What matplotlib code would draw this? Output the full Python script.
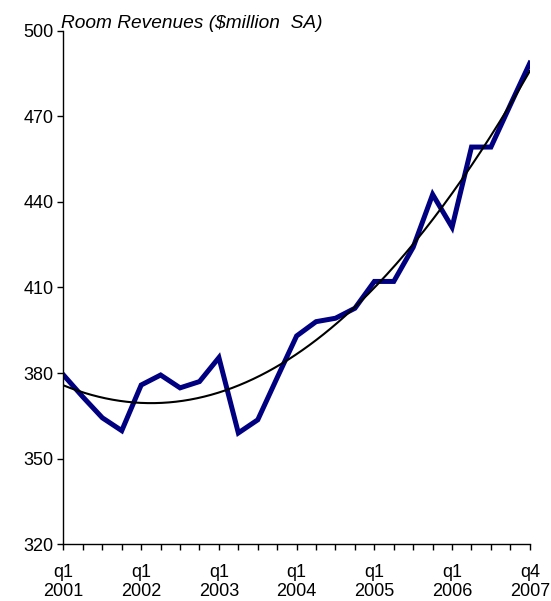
# Room revenues, quarterly, with polynomial trend

import numpy as np
import matplotlib.pyplot as plt

plt.rcParams['font.family'] = ['Liberation Sans', 'DejaVu Sans']

# Quarterly room revenues ($million, SA), q1 2001 onwards
revenues = [379.3, 371.6, 364.3, 359.8, 375.8, 379.3, 374.8, 377.0, 385.4,
            359.0, 363.6, 378.4, 393.0, 398.0, 399.2, 402.7, 412.1, 412.1,
            424.1, 442.6, 431.1, 459.2, 459.2, 474.0, 488.6]
tick_labels = ['q1\n2001', 'q1\n2002', 'q1\n2003', 'q1\n2004',
               'q1\n2005', 'q1\n2006', 'q4\n2007']
label_every = 4

x = np.arange(len(revenues))
# Полиномиальный тренд второй степени (как в Excel)
coefs = np.polyfit(x, revenues, 2)
x_fine = np.linspace(0, len(revenues) - 1, 200)
trend = np.polyval(coefs, x_fine)

fig = plt.figure(figsize=(5.51, 6.01), dpi=100)
ax = fig.add_axes([0.1152, 0.0945, 0.8463, 0.8545])

ax.plot(x, revenues, color='#000080', lw=3.6, solid_joinstyle='miter')
ax.plot(x_fine, trend, color='black', lw=1.5)

ax.set_xlim(0, len(revenues) - 1)
ax.set_ylim(320, 500)
ax.set_yticks(range(320, 501, 30))
ax.set_xticks(x)
ax.set_xticklabels([tick_labels[i // label_every] if i % label_every == 0 else ''
                    for i in x], linespacing=1.17)

ax.tick_params(axis='both', labelsize=13, direction='out', length=4,
               width=1, color='black')
ax.tick_params(axis='x', pad=10)
ax.tick_params(axis='y', pad=3)

for side in ['top', 'right']:
    ax.spines[side].set_visible(False)
for side in ['left', 'bottom']:
    ax.spines[side].set_linewidth(1)

fig.text(0.111, 0.9534, 'Room Revenues ($million  SA)', fontsize=13.8,
         style='italic', ha='left', va='baseline')

fig.savefig('out.png', dpi=100)
